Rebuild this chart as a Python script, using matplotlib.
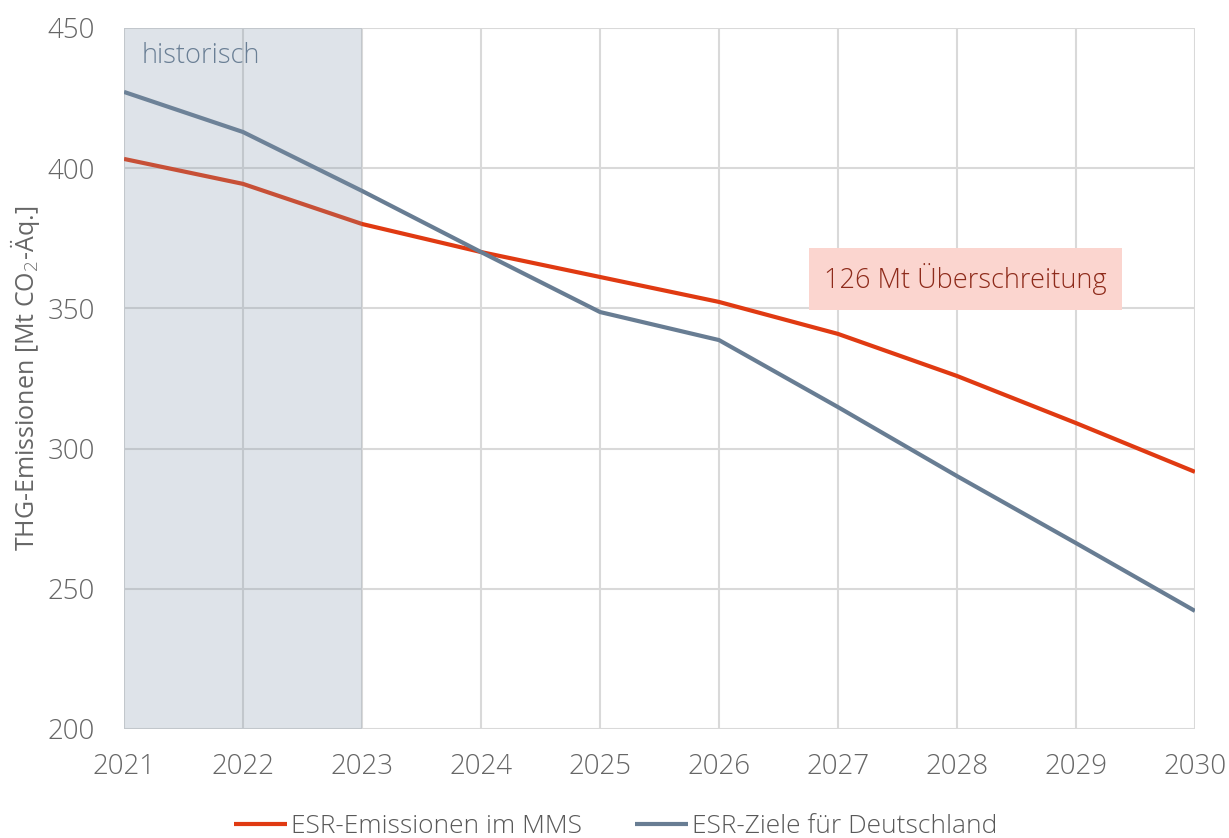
import numpy as np
import matplotlib.pyplot as plt

years = [2021, 2022, 2023, 2024, 2025, 2026, 2027, 2028, 2029, 2030]
esr_emissionen = [403.3, 394.4, 380.1, 370.1, 361.2, 352.3, 340.9, 325.9, 309.1, 291.7]
esr_ziele = [427.2, 412.9, 391.9, 370.1, 348.7, 338.7, 314.8, 290.2, 266.3, 242.1]
y_ticks = [200, 250, 300, 350, 400, 450]
historic_span = (2021, 2023)

plt.rcParams['font.family'] = ['Open Sans', 'DejaVu Sans']
plt.rcParams['font.weight'] = 'light'

fig = plt.figure(figsize=(12.29, 8.38), dpi=100)
ax = fig.add_axes([0.1009, 0.1301, 0.8714, 0.8365])

ax.plot(years, esr_emissionen, color='#E03A12', lw=3, label='ESR-Emissionen im MMS', zorder=3,
        solid_capstyle='butt')
ax.plot(years, esr_ziele, color='#687D93', lw=3, label='ESR-Ziele für Deutschland', zorder=3,
        solid_capstyle='butt')

# shaded historic period sits on top of the lines
ax.axvspan(*historic_span, color='#7F93A8', alpha=0.25, lw=0, zorder=4)
ax.text(2021.15, 440, 'historisch', color='#6A7F95', fontsize=19.5, va='center', ha='left', zorder=5)

ax.text(2028.07, 360.5, '126 Mt Überschreitung', color='#8E2B1B', fontsize=19.5,
        ha='center', va='center', zorder=5,
        bbox=dict(boxstyle='square,pad=0.55', fc='#FBD5CF', ec='none'))

ax.set_xlim(2021, 2030)
ax.set_ylim(200, 450)
ax.set_xticks(years)
ax.set_yticks(y_ticks)
ax.grid(True, color='#D9D9D9', lw=1.5, zorder=1)
ax.set_axisbelow(True)
for s in ax.spines.values():
    s.set_visible(False)
ax.tick_params(length=0, labelsize=20, labelcolor='#666666')
ax.tick_params(axis='y', pad=21)
ax.tick_params(axis='x', pad=17)
ax.set_ylabel('THG-Emissionen [Mt CO$_2$-Äq.]', fontsize=18, color='#666666', labelpad=4)

ax.legend(loc='upper center', bbox_to_anchor=(0.459, -0.088), ncol=2, frameon=False,
          fontsize=19, labelcolor='#595959', handlelength=2.0, handletextpad=0.15,
          columnspacing=2.0)

fig.savefig('out.png', dpi=100)
